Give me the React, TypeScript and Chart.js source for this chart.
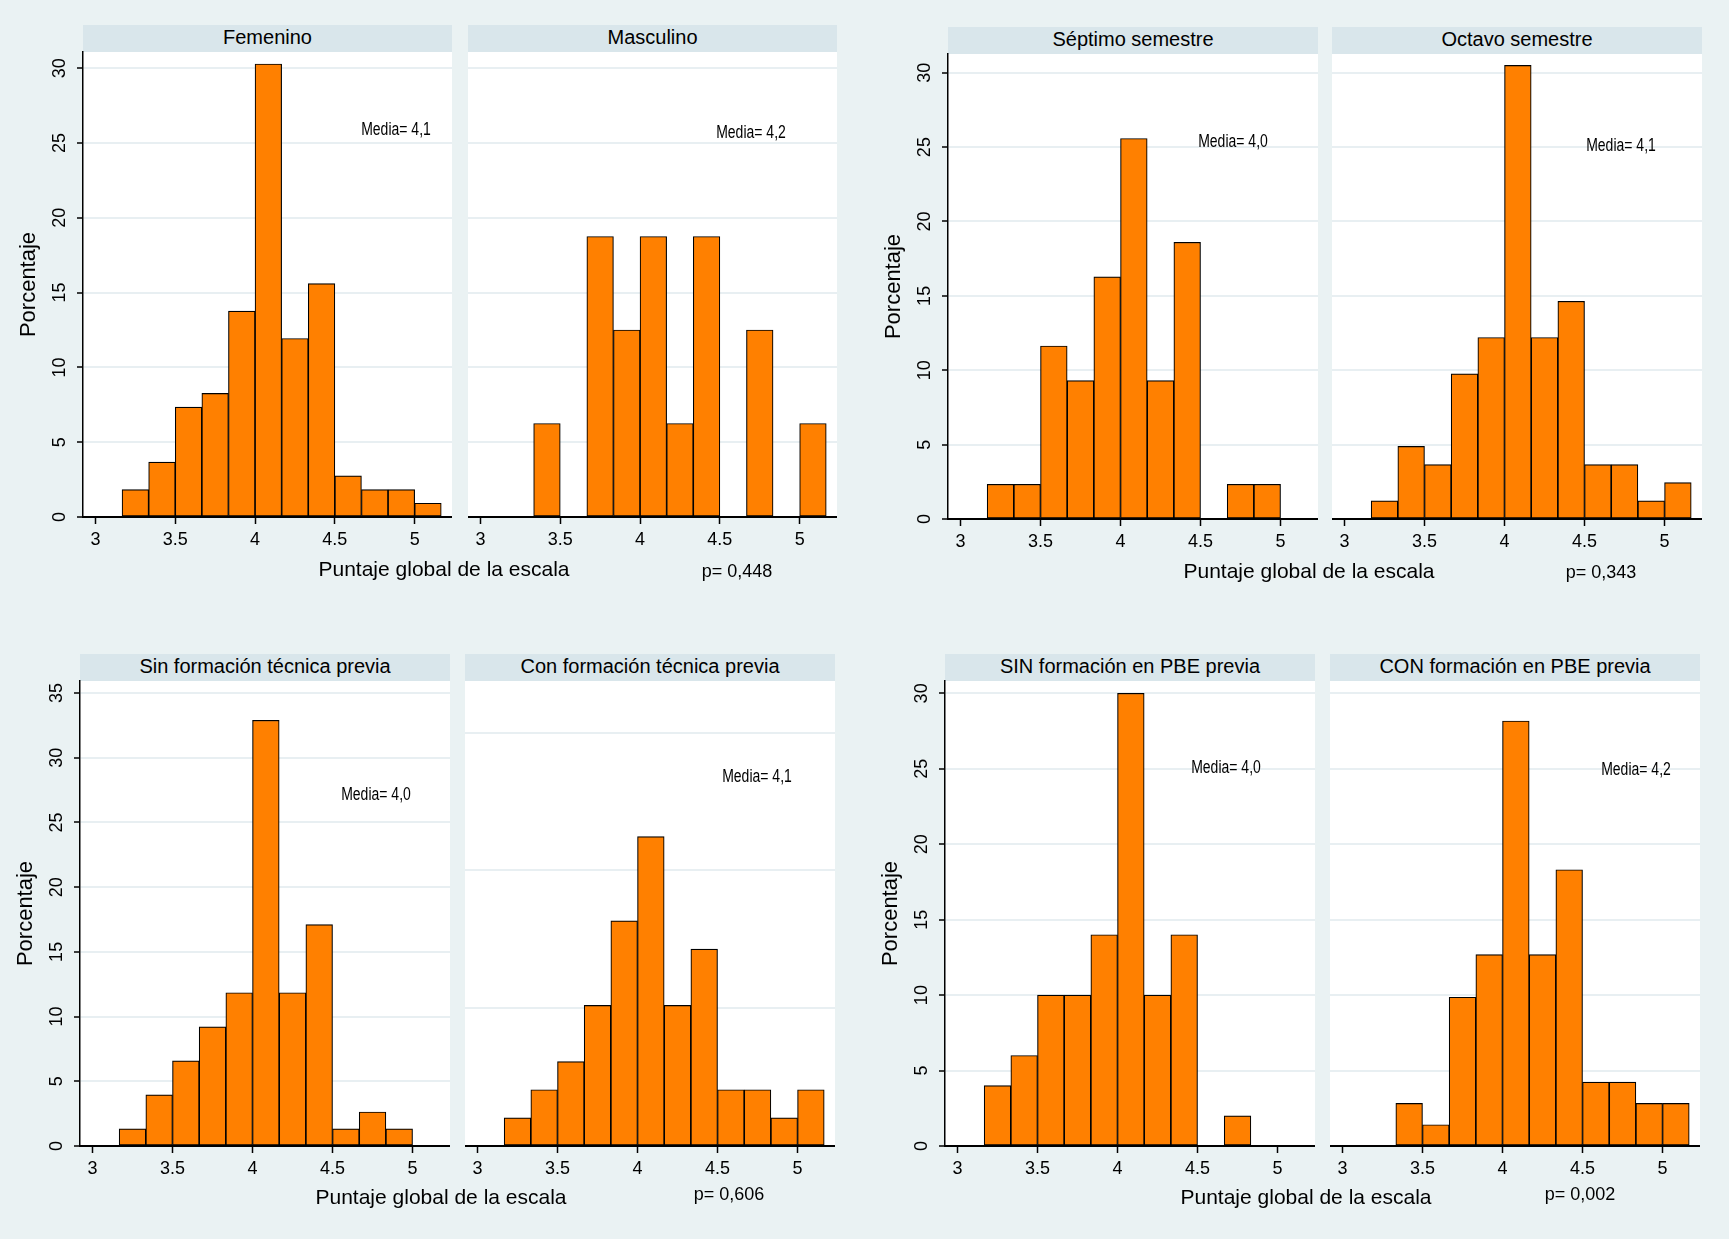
import { useEffect, useRef } from "react";
import { Chart, registerables } from "chart.js";

Chart.register(...registerables);

const FONT = "'Liberation Sans', Arial, Helvetica, sans-serif";
Chart.defaults.font.family = FONT;
Chart.defaults.color = "#000";

const BG = "#eaf2f3";
const HEADER_BG = "#d9e6eb";
const GRID = "#e8eff2";
const BAR = "#ff8000";

// centros de los intervalos del histograma (ancho 1/6)
const binCenters = [3.25, 3.4167, 3.5833, 3.75, 3.9167, 4.0833, 4.25, 4.4167, 4.5833, 4.75, 4.9167, 5.0833];
const xTicks = [3, 3.5, 4, 4.5, 5];
const yTicks30 = [0, 5, 10, 15, 20, 25, 30];
const yTicks35 = [0, 5, 10, 15, 20, 25, 30, 35];
const yTicksCon = [0, 10, 20, 30];

// porcentajes por intervalo
const femenino = [1.83, 3.67, 7.34, 8.26, 13.76, 30.28, 11.93, 15.6, 2.75, 1.83, 1.83, 0.92];
const masculino = [0, 6.25, 0, 18.75, 12.5, 18.75, 6.25, 18.75, 0, 12.5, 0, 6.25];
const septimo = [2.33, 2.33, 11.63, 9.3, 16.28, 25.58, 9.3, 18.6, 0, 2.33, 2.33, 0];
const octavo = [1.22, 4.88, 3.66, 9.76, 12.2, 30.49, 12.2, 14.63, 3.66, 3.66, 1.22, 2.44];
const sinTecnica = [1.32, 3.95, 6.58, 9.21, 11.84, 32.89, 11.84, 17.11, 1.32, 2.63, 1.32, 0];
const conTecnica = [2.04, 4.08, 6.12, 10.2, 16.33, 22.45, 10.2, 14.29, 4.08, 4.08, 2.04, 4.08];
const sinPbe = [4, 6, 10, 10, 14, 30, 10, 14, 0, 2, 0, 0];
const conPbe = [0, 2.82, 1.41, 9.86, 12.68, 28.17, 12.68, 18.31, 4.23, 4.23, 2.82, 2.82];

const X_MIN = 2.922;
const X_MAX = 5.234;

type PanelSpec = {
  title: string;
  values: number[];
  left: number;
  top: number;
  bottom: number;
  width: number;
  yMax: number;
  yTicks: number[];
  showY: boolean;
  media: string;
  mediaX: number;
  mediaY: number;
};

const panels: PanelSpec[] = [
  { title: "Femenino", values: femenino, left: 83, top: 52, bottom: 517, width: 369, yMax: 31.08, yTicks: yTicks30, showY: true, media: "Media= 4,1", mediaX: 396, mediaY: 130 },
  { title: "Masculino", values: masculino, left: 468, top: 52, bottom: 517, width: 369, yMax: 31.08, yTicks: yTicks30, showY: false, media: "Media= 4,2", mediaX: 751, mediaY: 133 },
  { title: "Séptimo semestre", values: septimo, left: 948, top: 54, bottom: 519, width: 370, yMax: 31.26, yTicks: yTicks30, showY: true, media: "Media= 4,0", mediaX: 1233, mediaY: 142 },
  { title: "Octavo semestre", values: octavo, left: 1332, top: 54, bottom: 519, width: 370, yMax: 31.26, yTicks: yTicks30, showY: false, media: "Media= 4,1", mediaX: 1621, mediaY: 146 },
  { title: "Sin formación técnica previa", values: sinTecnica, left: 80, top: 681, bottom: 1146, width: 370, yMax: 35.93, yTicks: yTicks35, showY: true, media: "Media= 4,0", mediaX: 376, mediaY: 795 },
  { title: "Con formación técnica previa", values: conTecnica, left: 465, top: 681, bottom: 1146, width: 370, yMax: 33.74, yTicks: yTicksCon, showY: false, media: "Media= 4,1", mediaX: 757, mediaY: 777 },
  { title: "SIN formación en PBE previa", values: sinPbe, left: 945, top: 681, bottom: 1146, width: 370, yMax: 30.82, yTicks: yTicks30, showY: true, media: "Media= 4,0", mediaX: 1226, mediaY: 768 },
  { title: "CON formación en PBE previa", values: conPbe, left: 1330, top: 681, bottom: 1146, width: 370, yMax: 30.82, yTicks: yTicks30, showY: false, media: "Media= 4,2", mediaX: 1636, mediaY: 770 },
];

const groups = [
  { xTitleX: 444, xTitleY: 568, p: "p= 0,448", pX: 737, pY: 571 },
  { xTitleX: 1309, xTitleY: 570, p: "p= 0,343", pX: 1601, pY: 572 },
  { xTitleX: 441, xTitleY: 1196, p: "p= 0,606", pX: 729, pY: 1194 },
  { xTitleX: 1306, xTitleY: 1196, p: "p= 0,002", pX: 1580, pY: 1194 },
];

const HEADER_H = 27;
const Y_AREA = 80; // ancho reservado para etiquetas y título del eje y
const X_AREA = 45; // alto reservado para etiquetas del eje x
const TOP_PAD = 20;

const plotBg = {
  id: "plotBg",
  beforeDraw(chart: Chart) {
    const { ctx, chartArea: a } = chart;
    ctx.save();
    ctx.fillStyle = "#fff";
    ctx.fillRect(a.left, a.top, a.right - a.left, a.bottom - a.top);
    ctx.restore();
  },
};

function Label({ x, y, size, text, narrow }: { x: number; y: number; size: number; text: string; narrow?: boolean }) {
  return (
    <div
      style={{
        position: "absolute",
        left: x,
        top: y - size / 2,
        height: size,
        lineHeight: `${size}px`,
        fontSize: size,
        fontFamily: FONT,
        color: "#000",
        whiteSpace: "nowrap",
        transform: `translateX(-50%)${narrow ? " scaleX(0.8)" : ""}`,
      }}
    >
      {text}
    </div>
  );
}

function Panel({ p }: { p: PanelSpec }) {
  const chartRef = useRef<HTMLCanvasElement | null>(null);

  useEffect(() => {
    const canvas = chartRef.current;
    if (!canvas) return;
    const chart = new Chart(canvas, {
      type: "bar",
      data: {
        datasets: [
          {
            data: binCenters.map((x, i) => ({ x, y: p.values[i] })),
            backgroundColor: BAR,
            borderColor: "#000",
            borderWidth: 1.15,
            borderSkipped: false,
            barPercentage: 1,
            categoryPercentage: 1,
          },
        ],
      },
      options: {
        animation: false,
        responsive: true,
        maintainAspectRatio: false,
        events: [],
        layout: { padding: { top: TOP_PAD, left: 0, right: 0, bottom: 0 } },
        plugins: { legend: { display: false }, tooltip: { enabled: false } },
        scales: {
          x: {
            type: "linear",
            min: X_MIN,
            max: X_MAX,
            offset: false,
            z: 1,
            afterBuildTicks: (s: any) => {
              s.ticks = xTicks.map((v) => ({ value: v }));
            },
            afterFit: (s: any) => {
              s.height = X_AREA;
            },
            grid: { offset: false, drawOnChartArea: false, drawTicks: true, tickLength: 7, tickColor: "#000", tickWidth: 1.5 },
            border: { display: true, color: "#000", width: 2 },
            ticks: { font: { size: 18 }, color: "#000", padding: 5.7, maxRotation: 0, autoSkip: false, callback: (v: any) => String(v) },
          },
          y: {
            type: "linear",
            min: 0,
            max: p.yMax,
            afterBuildTicks: (s: any) => {
              s.ticks = p.yTicks.map((v) => ({ value: v }));
            },
            afterFit: (s: any) => {
              s.width = p.showY ? Y_AREA : 0;
            },
            grid: { color: GRID, lineWidth: 2, drawTicks: p.showY, tickLength: 6, tickColor: "#000", tickWidth: 1.5 },
            border: { display: p.showY, color: "#000", width: 1.5 },
            ticks: {
              display: p.showY,
              font: { size: 18 },
              color: "#000",
              minRotation: 90,
              maxRotation: 90,
              crossAlign: "center",
              padding: 6.5,
              autoSkip: false,
              callback: (v: any) => String(v),
            },
            title: { display: p.showY, text: "Porcentaje", font: { size: 22 }, color: "#000", padding: { top: 12.8, bottom: 0 } },
          },
        },
      },
      plugins: [plotBg],
    });
    return () => {
      chart.destroy();
    };
  }, [p]);

  const extra = p.showY ? Y_AREA : 0;
  return (
    <>
      <div
        style={{
          position: "absolute",
          left: p.left,
          top: p.top - HEADER_H,
          width: p.width,
          height: HEADER_H,
          background: HEADER_BG,
        }}
      />
      <Label x={p.left + p.width / 2} y={p.top - HEADER_H + 11.5} size={20} text={p.title} />
      <div
        style={{
          position: "absolute",
          left: p.left - extra,
          top: p.top - TOP_PAD,
          width: p.width + extra,
          height: TOP_PAD + (p.bottom - p.top) + X_AREA,
        }}
      >
        <canvas ref={chartRef}></canvas>
      </div>
      <Label x={p.mediaX} y={p.mediaY} size={17.5} text={p.media} narrow />
    </>
  );
}

export default function App() {
  return (
    <div
      style={{
        position: "absolute",
        left: 0,
        top: 0,
        width: 1729,
        height: 1239,
        background: BG,
        overflow: "hidden",
      }}
    >
      {panels.map((p) => (
        <Panel key={p.title} p={p} />
      ))}
      {groups.map((g) => (
        <div key={g.p}>
          <Label x={g.xTitleX} y={g.xTitleY} size={21} text="Puntaje global de la escala" />
          <Label x={g.pX} y={g.pY} size={18} text={g.p} />
        </div>
      ))}
    </div>
  );
}
